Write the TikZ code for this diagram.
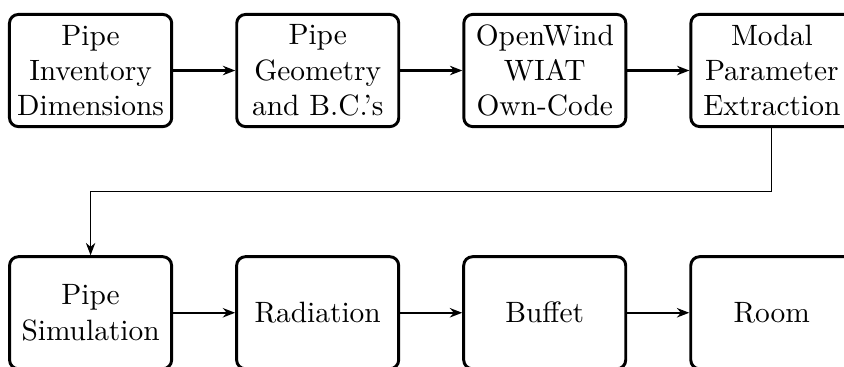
\documentclass[tikz,border=0pt]{standalone}
\usepackage{tikz}
\usetikzlibrary{arrows.meta,positioning,calc}
\tikzset{
  stage/.style = {draw,line width=1pt,rounded corners=3pt,inner xsep=2.6pt,
                  minimum width=55.1pt,minimum height=1.34cm,align=center},
  sig/.style   = {-{Stealth[length=4.2pt,width=3.2pt]},thick},
  link/.style  = {-{Stealth[length=4.2pt,width=3.2pt]}},
}
\begin{document}
\begin{tikzpicture}[node distance=1.52cm and 0.742cm]
  % top row: model
  \node[stage] (inv) {Pipe\\Inventory\\Dimensions};
  \node[stage,right=of inv] (geo) {Pipe\\Geometry\\and B.C.'s};
  \node[stage,right=of geo] (code) {OpenWind\\WIAT\\Own-Code};
  \node[stage,right=of code] (modal) {Modal\\Parameter\\Extraction};
  % bottom row: synthesis
  \node[stage,below=of inv] (sim) {Pipe\\Simulation};
  \node[stage,right=of sim] (rad) {Radiation};
  \node[stage,right=of rad] (buf) {Buffet};
  \node[stage,right=of buf] (room) {Room};
  \draw[sig] (inv) -- (geo);
  \draw[sig] (geo) -- (code);
  \draw[sig] (code) -- (modal);
  \coordinate (turn) at ($(modal.south)!0.5!(sim.north)$);
  \draw[link] (modal.south) |- (turn) -| (sim.north);
  \draw[sig] (sim) -- (rad);
  \draw[sig] (rad) -- (buf);
  \draw[sig] (buf) -- (room);
  \pgfresetboundingbox
  \useasboundingbox ([shift={(-2.72pt,4.42pt)}]inv.north west) rectangle ++(287pt,-124.8pt);
\end{tikzpicture}
\end{document}
